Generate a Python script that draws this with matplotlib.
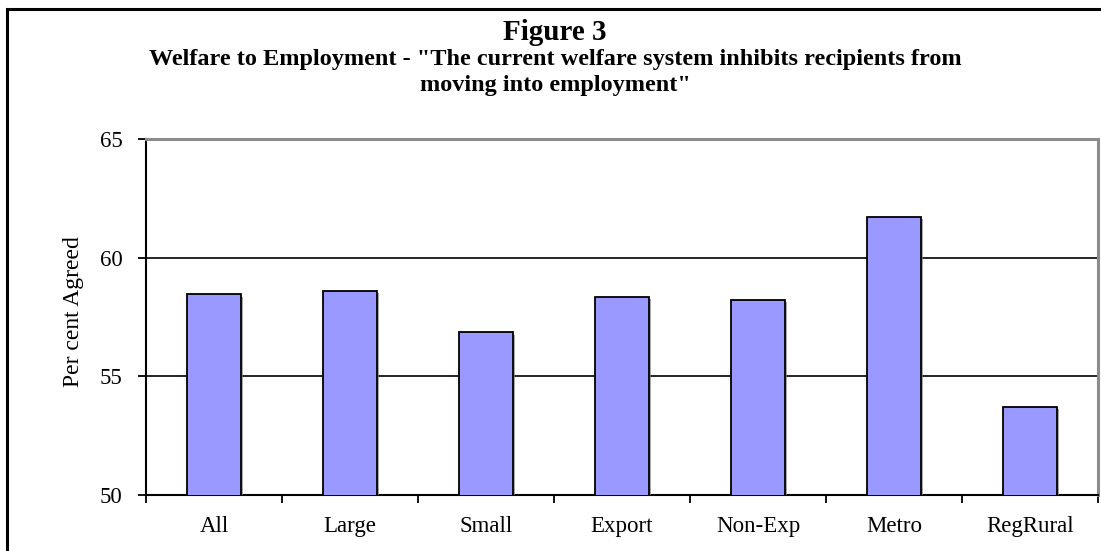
import matplotlib
matplotlib.use("Agg")
import matplotlib.pyplot as plt
from matplotlib.patches import Rectangle
from matplotlib import patheffects as pe
import numpy as np

categories = ["All", "Large", "Small", "Export", "Non-Exp", "Metro", "RegRural"]
agreed = [58.45, 58.6, 56.85, 58.35, 58.2, 61.7, 53.7]
y_ticks = [50, 55, 60, 65]

plt.rcParams["font.family"] = ["Liberation Serif", "DejaVu Serif"]

W, H = 1101, 551
fig = plt.figure(figsize=(W / 100, H / 100), dpi=100)
fig.patch.set_facecolor("white")

# outer chart frame (extends past the right and bottom edges)
frame = Rectangle((7 / W, -0.05), 1.1, 1 - 9 / H + 0.05, transform=fig.transFigure,
                  fill=False, edgecolor="black", linewidth=2.2, clip_on=False)
fig.patches.append(frame)

left, right = 146 / W, 1098 / W
top, bottom = 1 - 139 / H, 1 - 495 / H
ax = fig.add_axes([left, bottom, right - left, top - bottom])

x = np.arange(len(categories))
bars = ax.bar(x, agreed, width=0.4, color="#9999FF", edgecolor="black",
              linewidth=1.3, zorder=3)
for b in bars:
    b.set_path_effects([pe.SimplePatchShadow(offset=(1.5, -1.5), shadow_rgbFace="#808080", alpha=0.7),
                        pe.Normal()])

ax.set_xlim(-0.5, len(categories) - 0.5)
ax.set_ylim(50, 65)
ax.set_yticks(y_ticks)
ax.set_yticklabels([str(v) for v in y_ticks], fontsize=16.5)

# horizontal gridlines
for v in [55, 60]:
    ax.axhline(v, color="black", linewidth=1.2, zorder=1)

ax.set_xticks(x)
ax.set_xticklabels(categories, fontsize=16.5)
ax.set_xticks(np.arange(len(categories) + 1) - 0.5, minor=True)
ax.tick_params(axis="x", which="major", length=0, pad=15)
ax.tick_params(axis="x", which="minor", length=6, width=1.3, direction="out")
ax.tick_params(axis="y", which="major", length=6, width=1.3, direction="out", pad=11)

for s in ["left", "bottom"]:
    ax.spines[s].set_color("black")
    ax.spines[s].set_linewidth(1.5)
for s in ["top", "right"]:
    ax.spines[s].set_color("#8c8c8c")
    ax.spines[s].set_linewidth(2.2)

ax.set_ylabel("Per cent Agreed", fontsize=17)
ax.yaxis.set_label_coords((84 - 146) / (1098 - 146), 0.515)

cx = 555 / W
fig.text(cx, 1 - 32 / H, "Figure 3", ha="center", va="center", fontsize=21, fontweight="bold")
fig.text(cx, 1 - 60 / H, "Welfare to Employment - \"The current welfare system inhibits recipients from",
         ha="center", va="center", fontsize=17.5, fontweight="bold")
fig.text(cx, 1 - 85 / H, "moving into employment\"",
         ha="center", va="center", fontsize=17.5, fontweight="bold")

fig.savefig("out.png", dpi=100, facecolor="white")
